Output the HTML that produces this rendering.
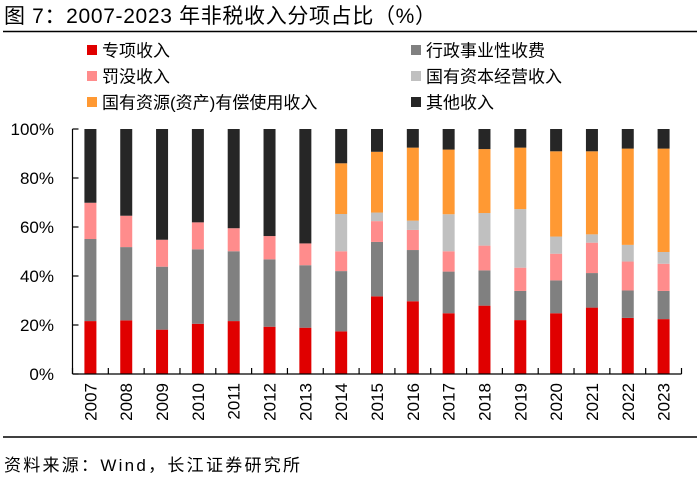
<!DOCTYPE html>
<html><head><meta charset="utf-8"><style>
body{margin:0;background:#fff;}
svg text{font-family:"Liberation Sans","Noto Sans CJK SC",sans-serif;fill:#000;}
</style></head><body>
<svg width="700" height="477" xmlns="http://www.w3.org/2000/svg">
<text x="4" y="23" font-size="21" textLength="432" lengthAdjust="spacing">图  7：2007-2023 年非税收入分项占比（%）</text>
<line x1="3" y1="31.5" x2="697" y2="31.5" stroke="#000" stroke-width="1.6"/>
<g id="legend"></g>
<g id="plot"></g>
<line x1="3" y1="437" x2="697" y2="437" stroke="#000" stroke-width="1.6"/>
<text x="4" y="471" font-size="17" textLength="296" lengthAdjust="spacing">资料来源：Wind，长江证券研究所</text>
</svg>
<script>
const years=["2007","2008","2009","2010","2011","2012","2013","2014","2015","2016","2017","2018","2019","2020","2021","2022","2023"];
const seriesNames=["专项收入","行政事业性收费","罚没收入","国有资本经营收入","国有资源(资产)有偿使用收入","其他收入"];
const seriesColors=["#e00000","#808080","#ff8c8c","#c0c0c0","#ff9933","#262626"];
const special=[21.6,21.9,18.1,20.5,21.6,19.3,18.9,17.4,31.7,29.7,24.8,27.9,22.0,24.8,27.1,22.9,22.4];
const fees=[33.5,29.9,25.7,30.4,28.5,27.5,25.5,24.6,22.2,20.9,17.0,14.4,11.9,13.4,14.1,11.2,11.5];
const fines=[14.8,12.8,11.0,11.0,9.4,9.5,8.9,8.1,8.5,8.2,8.3,10.1,9.5,10.9,12.4,11.8,11.1];
const stateCapital=[0,0,0,0,0,0,0,15.2,3.5,3.8,15.1,13.3,23.9,7.0,3.4,6.8,4.8];
const resources=[0,0,0,0,0,0,0,20.7,24.8,29.8,26.4,26.1,25.1,34.8,33.9,39.3,42.2];
const other=[30.1,35.4,45.2,38.1,40.5,43.7,46.7,14.0,9.3,7.6,8.4,8.2,7.6,9.1,9.1,8.0,8.0];
const yTicks=[0,20,40,60,80,100];
const series=[special,fees,fines,stateCapital,resources,other];
const segNames=["special","fees","fines","state-capital","resources","other"];
const NS="http://www.w3.org/2000/svg";
const x0=72.5,x1=681.5,y0=374,yTop=129;
const step=(x1-x0)/years.length;
const xC=i=>x0+step*(i+0.5);
const yS=v=>y0-(v/100)*(y0-yTop);
function mk(tag,attrs,parent){const e=document.createElementNS(NS,tag);for(const k in attrs)e.setAttribute(k,attrs[k]);parent.appendChild(e);return e;}
const plot=document.getElementById('plot');
years.forEach((yr,i)=>{
  let cum=0;
  series.forEach((s,k)=>{
    const v=s[i];if(v<=0){return;}
    const r=mk('rect',{x:xC(i)-6,y:yS(cum+v),width:12,height:yS(cum)-yS(cum+v),fill:seriesColors[k]},plot);
    
    
    cum+=v;
  });
});
const ya=mk('line',{x1:x0,y1:yTop,x2:x0,y2:y0,stroke:'#000','stroke-width':1.2},plot);


const xa=mk('line',{x1:x0,y1:y0,x2:x1,y2:y0,stroke:'#000','stroke-width':1.2},plot);


yTicks.forEach(t=>{
  mk('line',{x1:x0,y1:yS(t),x2:x0+6,y2:yS(t),stroke:'#000','stroke-width':1.2},plot);
  const tx=mk('text',{x:54,y:yS(t)+6,'font-size':17,'text-anchor':'end'},plot);
  tx.textContent=t+'%';
  
  
});
for(let i=0;i<=years.length;i++){
  mk('line',{x1:x0+step*i,y1:y0,x2:x0+step*i,y2:y0-6,stroke:'#000','stroke-width':1.2},plot);
}
years.forEach((yr,i)=>{
  const tx=mk('text',{x:0,y:0,'font-size':17,'text-anchor':'end',transform:`translate(${xC(i)+6},383) rotate(-90)`},plot);
  tx.textContent=yr;
  
  
});
const lg=document.getElementById('legend');
const lpos=[[87,50],[411,50],[87,76],[411,76],[87,102],[411,102]];
[0,1,2,3,4,5].forEach((k,j)=>{
  const [lx,ly]=lpos[j];
  const sw=mk('rect',{x:lx,y:ly-5,width:10,height:10,fill:seriesColors[k]},lg);
  
  
  const tx=mk('text',{x:lx+15,y:ly+6.5,'font-size':17},lg);
  tx.textContent=seriesNames[k];
  
  
});
</script>
</body></html>
